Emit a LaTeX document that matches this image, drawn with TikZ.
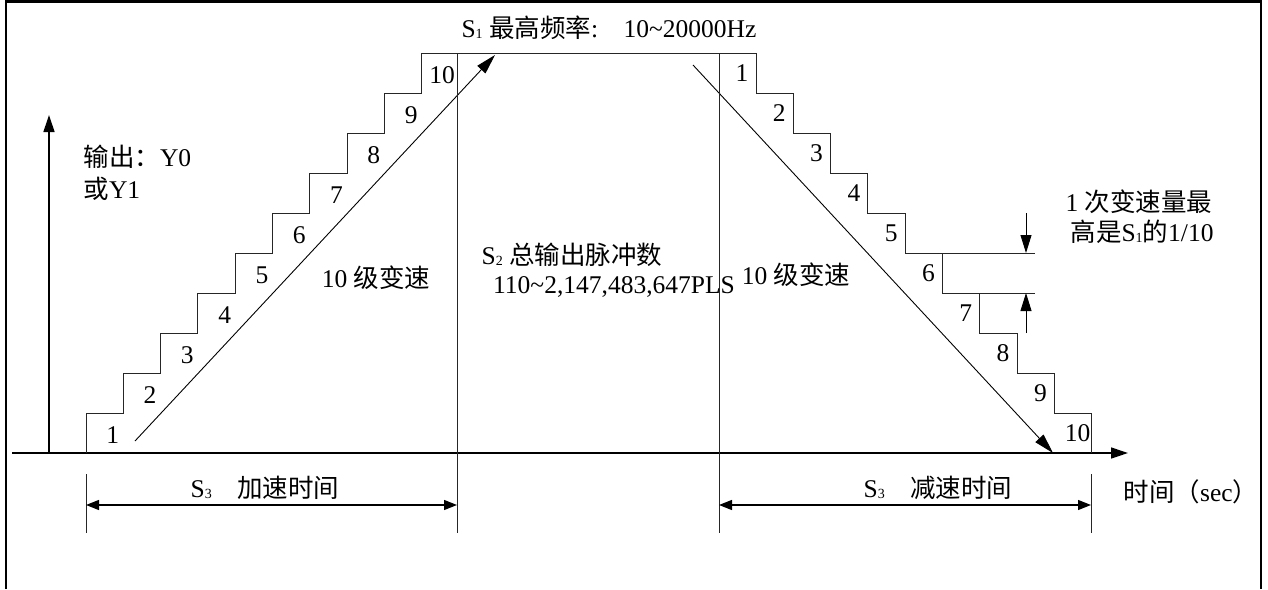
\documentclass[tikz,border=0pt]{standalone}
\usepackage{fontspec}
\setmainfont{Liberation Serif}
\newfontfamily\cjk{Noto Sans CJK SC}
\usetikzlibrary{arrows.meta,calc,positioning}
\newcommand{\zh}[1]{{\cjk #1}}
\newcommand{\lowidx}[1]{\raisebox{-1pt}{\fontsize{14}{14}\selectfont #1}}

\begin{document}
\begin{tikzpicture}[x=1pt,y=-1pt,font=\fontsize{25.5}{32}\selectfont,
    stepline/.style={line width=0.9pt,black!85},
    axisline/.style={line width=1.3pt,-{Triangle[length=17pt,width=11pt]}},
    slope/.style={line width=0.9pt,-{Triangle[length=20pt,width=11pt]}},
    span/.style={line width=1.3pt,{Triangle[length=13pt,width=10pt]}-{Triangle[length=13pt,width=10pt]}},
    gaparrow/.style={line width=0.9pt,-{Triangle[length=18pt,width=11pt]}},
    num/.style={inner sep=0pt}]
  \useasboundingbox (0,0) rectangle (1268,589);
  % frame
  \draw[line width=2.5pt] (6,589) -- (6,1.5) -- (1261,1.5) -- (1261,589);

  % axes
  \coordinate (org) at (49,453);
  \coordinate (xl) at (12,453);
  \coordinate (xr) at (1128,453);
  \coordinate (yt) at (49,115);
  \draw[axisline] (xl) -- (xr);
  \draw[axisline] (org) -- (yt);

  % staircase up and down
  \draw[stepline] (86,453) foreach \k in {1,...,9}{ -- ++(0,-40) -- ++(37.3,0)} -- ++(0,-40) -- (756,53)
    foreach \k in {1,...,9}{ -- ++(0,40) -- ++(37.3,0)} -- ++(0,40);
  \foreach \k in {1,...,10}{
    \node[num,anchor=east] (up\k) at ({86+37.3*\k-4},{435-40*(\k-1)}) {\k};
    \node[num] (dn\k) at ({742+37.3*(\k-1)},{73+40*(\k-1)}) {\k};
  }

  % slopes
  \coordinate (ua) at (135,441);
  \coordinate (ub) at (495,55);
  \coordinate (da) at (693,65);
  \coordinate (db) at (1053,453);
  \draw[slope] (ua) -- (ub);
  \draw[slope] (da) -- (db);

  % time marks
  \coordinate (acc) at (457,53);
  \coordinate (accb) at (457,533);
  \coordinate (dec) at (719,53);
  \coordinate (decb) at (719,533);
  \coordinate (st) at (86,474);
  \coordinate (stb) at (86,533);
  \coordinate (en) at (1091,474);
  \coordinate (enb) at (1091,533);
  \draw[stepline] (acc) -- (accb);
  \draw[stepline] (dec) -- (decb);
  \draw[stepline] (st) -- (stb);
  \draw[stepline] (en) -- (enb);
  \coordinate (ta) at (86,505);
  \coordinate (tb) at (457,505);
  \coordinate (tc) at (719,505);
  \coordinate (td) at (1091,505);
  \draw[span] (ta) -- (tb);
  \draw[span] (tc) -- (td);

  % one step size
  \coordinate (g1) at (942,253);
  \coordinate (g1e) at (1035,253);
  \coordinate (g2) at (979,293);
  \coordinate (g2e) at (1035,293);
  \coordinate (h1) at (1026,213);
  \coordinate (h2) at (1026,333);
  \draw[stepline] (g1) -- (g1e);
  \draw[stepline] (g2) -- (g2e);
  \draw[gaparrow] (h1) -- (h1 |- g1);
  \draw[gaparrow] (h2) -- (h2 |- g2);

  % texts
  \node (fmax) at (609,28) {S\lowidx{1} \zh{最高频率}:\quad 10\textasciitilde20000Hz};
  \node[anchor=west,align=left] (out) at (80,173) {\zh{输出：}Y0\\\zh{或}Y1};
  \node (lsteps) at (376,278) {10 \zh{级变速}};
  \node (pulse) at (572,255) {S\lowidx{2} \zh{总输出脉冲数}};
  \node (plsrange) at (614,287) {110\textasciitilde2,147,483,647PLS};
  \node (rsteps) at (796,275) {10 \zh{级变速}};
  \node (note1) at (1139,202) {1 \zh{次变速量最}};
  \node (note2) at (1142,232) {\zh{高是}S\lowidx{1}\zh{的}1/10};
  \node (acct) at (265,488) {S\lowidx{3}\quad\zh{加速时间}};
  \node (dect) at (938,488) {S\lowidx{3}\quad\zh{减速时间}};
  \node (tsec) at (1191,492) {\zh{时间（}sec\zh{）}};
\end{tikzpicture}
\end{document}
